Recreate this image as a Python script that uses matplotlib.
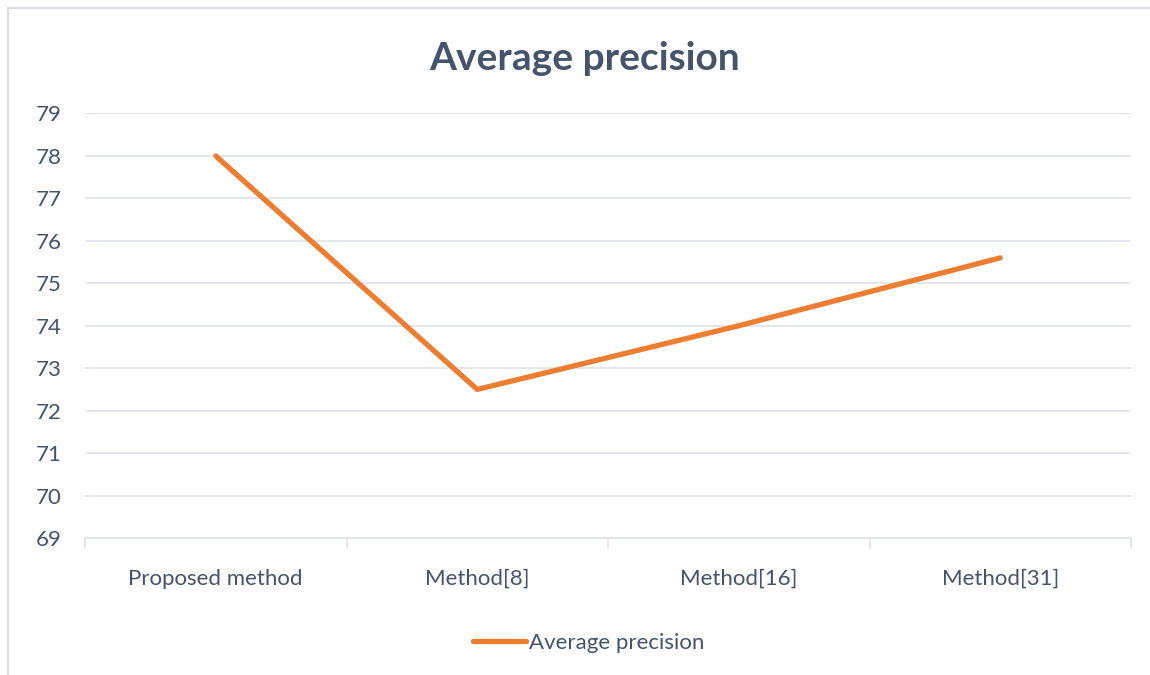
import matplotlib.pyplot as plt
import numpy as np
from matplotlib.patches import Rectangle

methods = ['Proposed method', 'Method[8]', 'Method[16]', 'Method[31]']
avg_precision = [78.0, 72.5, 74.0, 75.6]
y_ticks = list(range(69, 80))

text_color = '#44546A'
grid_color = '#E1E4EA'
line_color = '#ED7D31'

plt.rcParams['font.family'] = ['Lato', 'DejaVu Sans']

fig = plt.figure(figsize=(11.5, 6.75), dpi=100)
W, H = 1150, 675

# chart border (only top/left visible in the reference)
fig.patches.append(Rectangle((8 / W, -0.1), 1.2, 1 - 8 / H + 0.1, transform=fig.transFigure,
                             fill=False, edgecolor='#D9DCE1', linewidth=1.5))

ax = fig.add_axes([85 / W, 1 - 538 / H, (1131 - 85) / W, (538 - 113.5) / H])

x = np.arange(len(methods))
ax.plot(x, avg_precision, color=line_color, linewidth=3.8, solid_capstyle='round',
        label='Average precision')

ax.set_xlim(-0.5, len(methods) - 0.5)
ax.set_ylim(69, 79)
ax.set_yticks(y_ticks)
ax.yaxis.grid(True, color=grid_color, linewidth=1.3)
ax.set_axisbelow(True)

ax.set_xticks(x)
ax.set_xticklabels(methods)
ax.set_xticks(np.arange(-0.5, len(methods)), minor=True)
ax.tick_params(axis='x', which='major', length=0, pad=22, labelsize=16, labelcolor=text_color)
ax.tick_params(axis='x', which='minor', length=8, width=1.3, color=grid_color)
ax.tick_params(axis='y', length=0, pad=17, labelsize=16, labelcolor=text_color)

for s in ['top', 'right', 'left']:
    ax.spines[s].set_visible(False)
ax.spines['bottom'].set_color(grid_color)
ax.spines['bottom'].set_linewidth(1.3)

fig.text(0.508, 1 - 58 / H, 'Average precision', ha='center', va='center',
         fontsize=28, fontweight='bold', color=text_color)

leg = fig.legend(loc='center', bbox_to_anchor=(0.512, 1 - 643 / H), frameon=False,
                 fontsize=16, handlelength=2.4, handletextpad=0.15)
for t in leg.get_texts():
    t.set_color(text_color)

fig.savefig('out.png', dpi=100)
